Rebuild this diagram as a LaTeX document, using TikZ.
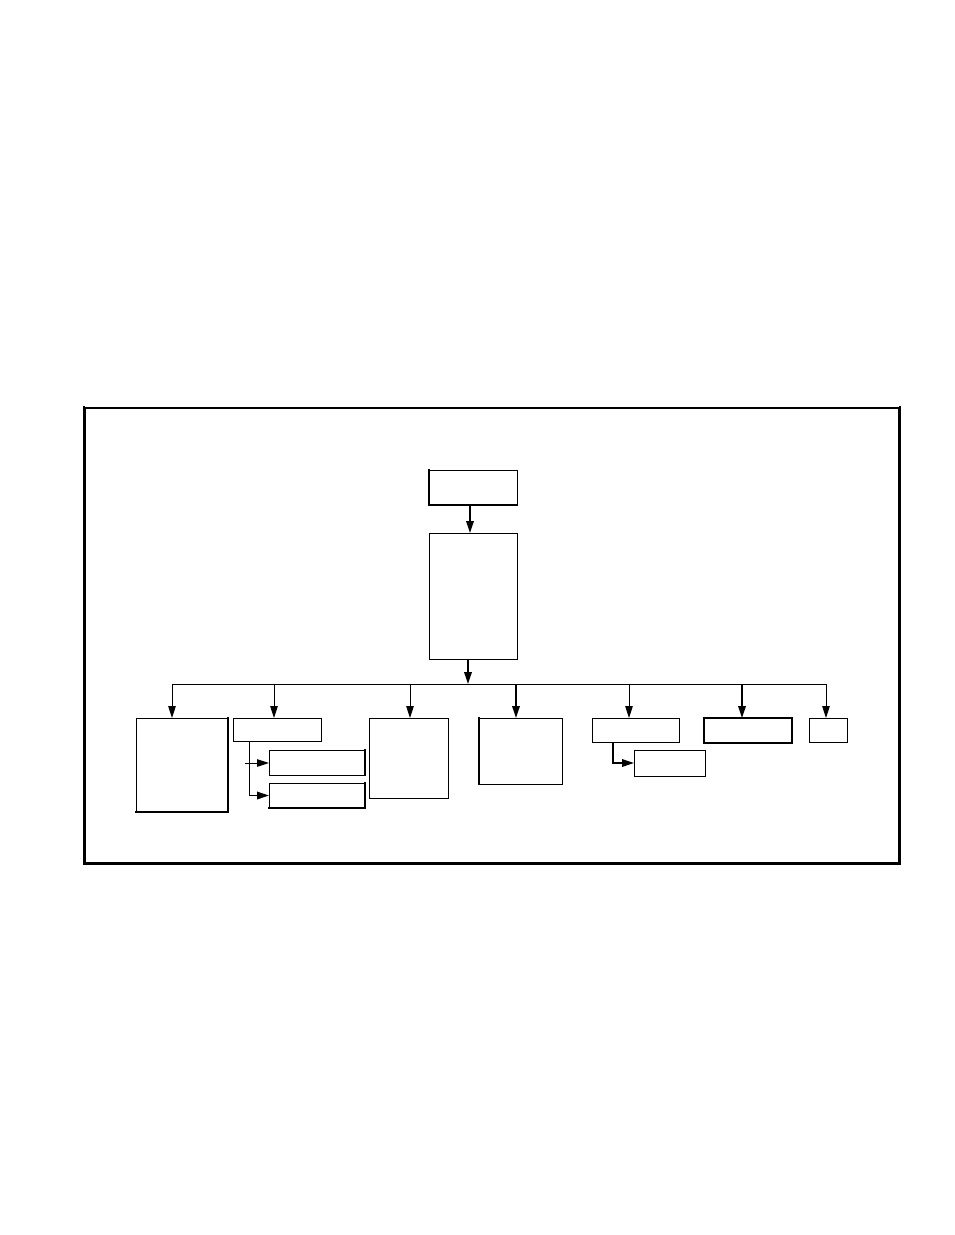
\documentclass[tikz,border=0pt]{standalone}
\usetikzlibrary{arrows.meta}
\begin{document}
\begin{tikzpicture}[x=1pt,y=-1pt,
  box/.style={draw,line width=1pt,rectangle,inner sep=0pt,outer sep=0pt},
  arr/.style={line width=1pt,-{Triangle[length=12pt,width=7.5pt]}},
  thickarr/.style={line width=1.8pt,-{Triangle[length=12pt,width=7.5pt]}},
  wire/.style={line width=1pt},
  heavy/.style={line width=2pt,line cap=rect}]
\useasboundingbox (0,0) rectangle (954,1235);
% outer frame
\node[draw,line width=1.2pt,minimum width=814pt,minimum height=455pt,inner sep=0pt] (frame) at (492,635.5) {};
\draw[heavy] (frame.north west) -- (frame.south west) -- (frame.south east) -- (frame.north east);
% boxes
\node[box,minimum width=88pt,minimum height=35pt] (top) at (473,487.5) {};
\node[box,minimum width=88pt,minimum height=126pt] (mid) at (473,596) {};
\node[box,minimum width=92pt,minimum height=94pt] (A) at (182,765) {};
\node[box,minimum width=88pt,minimum height=23pt] (B) at (277,729.5) {};
\node[box,minimum width=96pt,minimum height=25pt] (C1) at (317,762.5) {};
\node[box,minimum width=96pt,minimum height=25pt] (C2) at (317,795.5) {};
\node[box,minimum width=79pt,minimum height=80pt] (D) at (408.5,758) {};
\node[box,minimum width=83pt,minimum height=66pt] (E) at (520.5,751) {};
\node[box,minimum width=87pt,minimum height=24pt] (F) at (635.5,730) {};
\node[box,minimum width=71pt,minimum height=26pt] (G) at (669.5,763) {};
\node[box,line width=2pt,minimum width=88pt,minimum height=25pt] (H) at (748,730.5) {};
\node[box,minimum width=38pt,minimum height=24pt] (I) at (828,730) {};
% heavier edges
\draw[heavy] (top.north west) -- (top.south west) -- (top.south east);
\draw[heavy] (A.south west) -- (A.south east) -- (A.north east);
\draw[heavy] (C1.north east) -- (C1.south east);
\draw[heavy] (C2.north east) -- (C2.south east) -- (C2.south west);
\draw[heavy] (E.north west) -- (E.south west);
% bus coordinates
\coordinate (b1) at (172,684);
\coordinate (b2) at (274,684);
\coordinate (b3) at (410,684);
\coordinate (bm) at (468,684);
\coordinate (b4) at (516,684);
\coordinate (b5) at (629,684);
\coordinate (b6) at (742,684);
\coordinate (b7) at (826,684);
% connectors
\draw[thickarr] (top.south -| 470,0) -- (mid.north -| 470,0);
\draw[thickarr] (mid.south -| bm) -- (bm);
\draw[wire] (b1) -- (b7);
\draw[arr] (b1) -- (b1 |- A.north);
\draw[arr] (b2) -- (b2 |- B.north);
\draw[arr] (b3) -- (b3 |- D.north);
\draw[thickarr] (b4) -- (b4 |- E.north);
\draw[arr] (b5) -- (b5 |- F.north);
\draw[thickarr] (b6) -- (b6 |- H.north);
\draw[arr] (b7) -- (b7 |- I.north);
% sub-branches
\coordinate (bx) at (249,741);
\coordinate (bs) at (245,763);
\draw[wire] (B.south -| bx) -- (bx |- C2.west);
\draw[arr] (bs) -- (C1.west |- bs);
\draw[thickarr] (bx |- C2.west) -- (C2.west);
\coordinate (fx) at (613,742);
\draw[thickarr] (F.south -| fx) -- (fx |- G.west) -- (G.west);
\end{tikzpicture}
\end{document}
